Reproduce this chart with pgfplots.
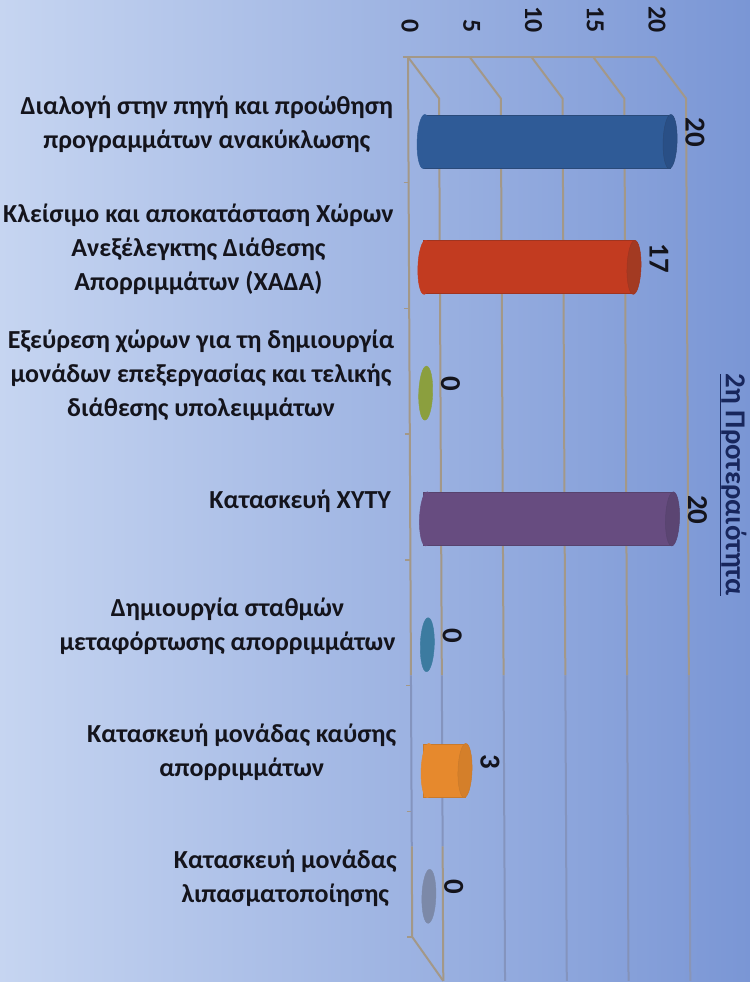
\documentclass[border=0pt]{standalone}
\usepackage{fontspec}
\setmainfont{Carlito}
\usepackage{pgfplots}
\pgfplotsset{compat=1.18}

\definecolor{gridtan}{HTML}{A39888}
\definecolor{gridblue}{HTML}{8494BE}
\definecolor{inkblack}{HTML}{14141C}
\definecolor{blueE}{HTML}{2A4A7A}\definecolor{blueB}{HTML}{2F5B97}\definecolor{blueC}{HTML}{294F86}
\definecolor{redE}{HTML}{A03420}\definecolor{redB}{HTML}{C23B20}\definecolor{redC}{HTML}{A33A22}
\definecolor{purE}{HTML}{57436E}\definecolor{purB}{HTML}{674C80}\definecolor{purC}{HTML}{5B4572}
\definecolor{oraE}{HTML}{C97A2B}\definecolor{oraB}{HTML}{E6892D}\definecolor{oraC}{HTML}{D47F2A}
\definecolor{greenD}{HTML}{8B9F3E}\definecolor{tealD}{HTML}{3C7BA0}\definecolor{grayD}{HTML}{7C89A8}

% end of a cylinder, one ellipse; 1 px of the reference = 1bp here
\pgfdeclareplotmark{cyl}{%
  \pgfpathellipse{\pgfpointorigin}{\pgfpoint{7bp}{0bp}}{\pgfpoint{0.8bp}{27bp}}%
  \pgfusepathqfillstroke}

% \cyl{value}{category}{edge}{body}{cap}
\newcommand{\cyl}[5]{%
  \addplot[xbar, bar width=53bp, bar shift=0bp, draw=#3, line width=1bp, fill=#4] coordinates {(#1,#2)};
  \addplot[only marks, mark=cyl, mark options={fill=#4, draw=#4, line width=0.5bp}] coordinates {(0,#2)};
  \addplot[only marks, mark=cyl, mark options={fill=#5, draw=#3, line width=0.5bp},
    nodes near coords, point meta=x] coordinates {(#1,#2)};
}
\newcommand{\disc}[3]{%
  \addplot[only marks, mark=cyl, mark options={fill=#3, draw=#3},
    nodes near coords, point meta=x] coordinates {(#1,#2)};
}

\begin{document}
\begin{tikzpicture}
\useasboundingbox (0,0) rectangle (750bp,-982bp);
\clip (0,0) rectangle (750bp,-982bp);
\shade[left color={rgb,255:red,198;green,213;blue,241}, middle color={rgb,255:red,158;green,179;blue,225},
  right color={rgb,255:red,122;green,150;blue,213}] (0,0) rectangle (750bp,-982bp);

% wall and floor: frame, ticks, category labels, title
\begin{axis}[
  at={(408bp,-57bp)}, anchor=north west,
  x={(12.35bp,0bp)}, y={(0.6bp,-125.7bp)},
  xmin=0, xmax=20, ymin=0.5, ymax=7.5,
  clip=false,
  axis line style={draw=none},
  axis x line*=top, axis y line*=left,
  xtick={0,5,10,15,20},
  ytick={1,2,3,4,5,6,7},
  minor ytick={0.5,1.5,2.5,3.5,4.5,5.5,6.5,7.5},
  major tick length=7bp, minor tick length=5bp,
  tick align=outside,
  y tick style={draw=none},
  minor y tick style={draw=gridtan, line width=1.4bp},
  x tick style={draw=gridtan, line width=2bp},
  /pgf/number format/assume math mode=true,
  xticklabel style={xshift=2bp, yshift=17bp, rotate=-90, anchor=east, font=\fontsize{26}{26}\selectfont\bfseries, text=inkblack, inner sep=0pt},
  yticklabel style={align=center, anchor=east, font=\fontsize{26.1}{34}\selectfont\bfseries, text=inkblack, inner sep=0pt, xshift=-8bp, yshift=-4bp},
  yticklabels={
    {Διαλογή στην πηγή και προώθηση\\προγραμμάτων ανακύκλωσης},
    {Κλείσιμο και αποκατάσταση Χώρων\\Ανεξέλεγκτης Διάθεσης\\Απορριμμάτων (ΧΑΔΑ)},
    {Εξεύρεση χώρων για τη δημιουργία\\μονάδων επεξεργασίας και τελικής\\διάθεσης υπολειμμάτων},
    {Κατασκευή ΧΥΤΥ\hspace{4bp}},
    {Δημιουργία σταθμών\\μεταφόρτωσης απορριμμάτων},
    {Κατασκευή μονάδας καύσης\\απορριμμάτων},
    {Κατασκευή μονάδας\\λιπασματοποίησης}},
  title={\underline{2η Προτεραιότητα}},
  title style={at={(axis cs:26.15,3.95)}, anchor=center, rotate=-90, inner sep=0pt,
    font=\fontsize{29}{29}\selectfont\bfseries, text={rgb,255:red,24;green,38;blue,92}},
]
\pgfplotsset{every axis plot/.append style={line width=2bp, forget plot}}
% top edge, left edge
\addplot[gridtan] coordinates {(-0.4,0.5)(20,0.5)};
\addplot[gridtan] coordinates {(0,0.5)(0,5.42)};
\addplot[gridblue] coordinates {(0,5.42)(0,6.78)};
\addplot[gridtan] coordinates {(0,6.78)(0,7.5)(2.5,7.85)};
% floor lines
\addplot[gridtan] coordinates {(0,0.5)(2.5,0.83)(2.5,5.42)};
\addplot[gridblue] coordinates {(2.5,5.42)(2.5,6.78)};
\addplot[gridtan] coordinates {(2.5,6.78)(2.5,7.85)};
\addplot[gridtan] coordinates {(5,0.5)(7.5,0.83)(7.5,5.42)};
\addplot[gridblue] coordinates {(7.5,5.42)(7.5,7.85)};
\addplot[gridtan] coordinates {(10,0.5)(12.5,0.83)(12.5,5.42)};
\addplot[gridblue] coordinates {(12.5,5.42)(12.5,7.85)};
\addplot[gridtan] coordinates {(15,0.5)(17.5,0.83)(17.5,5.42)};
\addplot[gridblue!90!gray] coordinates {(17.5,5.42)(17.5,7.85)};
\addplot[gridtan] coordinates {(20,0.5)(22.5,0.83)(22.5,5.42)};
\addplot[gridblue!85!gridtan] coordinates {(22.5,5.42)(22.5,7.85)};
\end{axis}

% the bars
\begin{axis}[
  at={(423.7bp,-78.6bp)}, anchor=north west,
  x={(12.3bp,0bp)}, y={(0.8bp,-125.8bp)},
  xmin=0, xmax=20, ymin=0.5, ymax=7.5,
  clip=false, axis lines=none,
  /pgf/number format/assume math mode=true,
  every node near coord/.append style={shift={(15.5bp,9bp)}, rotate=-90, anchor=base, inner sep=0pt,
    font=\fontsize{29}{29}\selectfont\bfseries, text=inkblack},
]
\cyl{20}{1}{blueE}{blueB}{blueC}
\cyl{17}{2}{redE}{redB}{redC}
\disc{0}{3}{greenD}
\cyl{20}{4}{purE}{purB}{purC}
\disc{0}{5}{tealD}
\cyl{3}{6}{oraE}{oraB}{oraC}
\disc{0}{7}{grayD}
\end{axis}
\end{tikzpicture}
\end{document}
